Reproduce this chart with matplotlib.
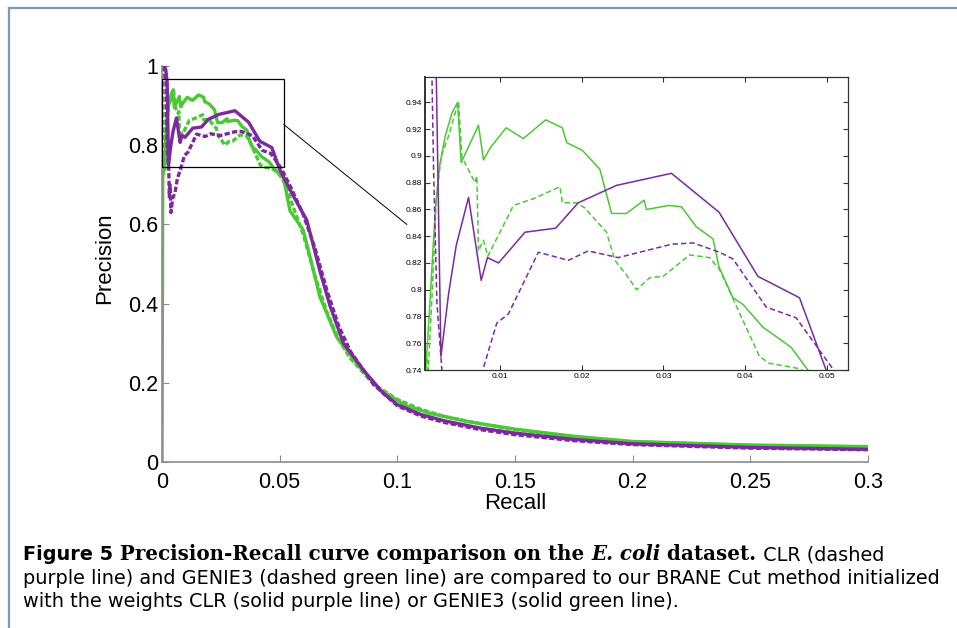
import matplotlib
matplotlib.use("Agg")
import matplotlib.pyplot as plt
from matplotlib.patches import Rectangle
from matplotlib.lines import Line2D

plt.rcParams["font.family"] = ["Liberation Sans", "DejaVu Sans"]

# Precision-Recall curves
# BRANE Cut initialised with GENIE3 (solid green)
recall_brane_genie3 = [0, 0.0003, 0.0009, 0.0014, 0.00206, 0.0026, 0.00328, 0.0041, 0.00479,
                       0.00523, 0.00735, 0.00796, 0.00878, 0.01073, 0.01285, 0.01558, 0.01762,
                       0.01815, 0.0201, 0.02222, 0.02365, 0.02548, 0.02764, 0.02792, 0.03069,
                       0.0322, 0.03403, 0.03607, 0.0368, 0.03851, 0.03974, 0.04218, 0.04564,
                       0.04768, 0.0516, 0.0544, 0.060, 0.0629, 0.0671, 0.0742, 0.0827, 0.0926,
                       0.104, 0.1139, 0.13, 0.15, 0.175, 0.2, 0.25, 0.3]
prec_brane_genie3 = [0, 0.72, 0.74, 0.79, 0.86, 0.893, 0.915, 0.932, 0.94,
                     0.895, 0.923, 0.897, 0.906, 0.921, 0.913, 0.927, 0.921,
                     0.91, 0.904, 0.89, 0.857, 0.857, 0.867, 0.86, 0.863,
                     0.862, 0.847, 0.838, 0.817, 0.794, 0.789, 0.772, 0.757,
                     0.74, 0.717, 0.634, 0.586, 0.518, 0.417, 0.316, 0.249, 0.182,
                     0.142, 0.123, 0.102, 0.083, 0.065, 0.052, 0.043, 0.039]

# GENIE3 (dashed green)
recall_genie3 = [0, 0.0003, 0.0008, 0.0012, 0.0017, 0.0022, 0.0028, 0.0037, 0.00491, 0.00532,
                 0.00694, 0.00715, 0.00735, 0.00796, 0.00849, 0.01163, 0.01407, 0.01733,
                 0.01762, 0.01937, 0.02039, 0.02303, 0.02405, 0.02548, 0.0267, 0.02833,
                 0.02996, 0.03322, 0.03566, 0.03688, 0.04177, 0.043, 0.04666, 0.0495, 0.0525,
                 0.056, 0.06, 0.065, 0.07, 0.075, 0.08, 0.09, 0.1, 0.11, 0.12, 0.135, 0.15,
                 0.175, 0.2, 0.25, 0.3]
prec_genie3 = [1.0, 0.92, 0.76, 0.74, 0.80, 0.87, 0.90, 0.915, 0.941, 0.899,
               0.88, 0.885, 0.829, 0.837, 0.825, 0.863, 0.868, 0.877,
               0.865, 0.865, 0.861, 0.843, 0.822, 0.811, 0.80, 0.809,
               0.81, 0.826, 0.824, 0.815, 0.75, 0.745, 0.741, 0.73, 0.70,
               0.64, 0.575, 0.47, 0.38, 0.31, 0.262, 0.196, 0.158, 0.133, 0.115, 0.097, 0.082,
               0.064, 0.051, 0.042, 0.037]

# CLR (dashed purple)
recall_clr = [0.0008, 0.00165, 0.00185, 0.00226, 0.00287, 0.0031, 0.0034, 0.0038, 0.0045,
              0.0055, 0.0065, 0.00788, 0.00959, 0.01102, 0.01468, 0.01835, 0.02079, 0.02446,
              0.03098, 0.03363, 0.03688, 0.03851, 0.04259, 0.04625, 0.05073, 0.055, 0.06,
              0.065, 0.07, 0.075, 0.08, 0.09, 0.1, 0.11, 0.12, 0.135, 0.15, 0.175, 0.2,
              0.25, 0.3]
prec_clr = [1.0, 0.96, 0.89, 0.79, 0.74, 0.67, 0.70, 0.63, 0.665,
            0.68, 0.715, 0.74, 0.775, 0.782, 0.828, 0.822, 0.829, 0.824,
            0.834, 0.835, 0.828, 0.823, 0.787, 0.779, 0.741, 0.69, 0.625,
            0.54, 0.435, 0.345, 0.28, 0.195, 0.142, 0.116, 0.1, 0.082, 0.069, 0.054, 0.044,
            0.035, 0.031]

# BRANE Cut initialised with CLR (solid purple)
recall_brane_clr = [0.0011, 0.0016, 0.00218, 0.00275, 0.00369, 0.00462, 0.00613, 0.00768,
                    0.00845, 0.0098, 0.01305, 0.0168, 0.01957, 0.02426, 0.03098, 0.0368,
                    0.04157, 0.04666, 0.04992, 0.0525, 0.0555, 0.0615, 0.0672, 0.0714,
                    0.0771, 0.0856, 0.094, 0.1, 0.11, 0.12, 0.135, 0.15, 0.175, 0.2, 0.25, 0.3]
prec_brane_clr = [1.0, 0.99, 0.96, 0.75, 0.797, 0.833, 0.869, 0.807,
                  0.824, 0.82, 0.843, 0.846, 0.865, 0.878, 0.887, 0.858,
                  0.81, 0.794, 0.74, 0.71, 0.675, 0.611, 0.48, 0.394,
                  0.30, 0.232, 0.174, 0.145, 0.12, 0.104, 0.086, 0.073, 0.057, 0.046, 0.037, 0.032]

x_ticks = [0, 0.05, 0.1, 0.15, 0.2, 0.25, 0.3]
x_tick_labels = ["0", "0.05", "0.1", "0.15", "0.2", "0.25", "0.3"]
y_ticks = [0, 0.2, 0.4, 0.6, 0.8, 1.0]
y_tick_labels = ["0", "0.2", "0.4", "0.6", "0.8", "1"]

inset_x_ticks = [0.01, 0.02, 0.03, 0.04, 0.05]
inset_x_labels = ["0.01", "0.02", "0.03", "0.04", "0.05"]
inset_y_ticks = [0.74, 0.76, 0.78, 0.80, 0.82, 0.84, 0.86, 0.88, 0.90, 0.92, 0.94]
inset_y_labels = ["0.74", "0.76", "0.78", "0.8", "0.82", "0.84", "0.86", "0.88", "0.9", "0.92", "0.94"]

PURPLE = "#7b2a9e"
GREEN = "#4bc935"

curves = [
    (recall_genie3, prec_genie3, GREEN, "dashed"),
    (recall_brane_genie3, prec_brane_genie3, GREEN, "solid"),
    (recall_clr, prec_clr, PURPLE, "dashed"),
    (recall_brane_clr, prec_brane_clr, PURPLE, "solid"),
]

fig = plt.figure(figsize=(9.57, 6.28), dpi=100)

# main axes
ax = fig.add_axes([0.1693, 0.2643, 0.7377, 0.6306])
for r, p, c, ls in curves:
    style = (0, (1.6, 0.7)) if ls == "dashed" else "-"
    ax.plot(r, p, color=c, linestyle=style, linewidth=2.4)

ax.set_xlim(0, 0.3)
ax.set_ylim(0, 1)
ax.set_xticks(x_ticks)
ax.set_xticklabels(x_tick_labels)
ax.set_yticks(y_ticks)
ax.set_yticklabels(y_tick_labels)
for s in ["top", "right"]:
    ax.spines[s].set_visible(False)
for s in ["left", "bottom"]:
    ax.spines[s].set_color("#8c8c8c")
    ax.spines[s].set_linewidth(1.2)
ax.tick_params(direction="in", length=5, color="#8c8c8c", labelsize=15.5)
ax.tick_params(axis="x", pad=7)
ax.tick_params(axis="y", pad=3)
ax.set_xlabel("Recall", fontsize=16)
ax.set_ylabel("Precision", fontsize=16)
ax.xaxis.set_label_coords(0.5, -0.077)
ax.yaxis.set_label_coords(-0.066, 0.515)

# zoom box and connector
box_x0, box_x1, box_y0, box_y1 = 0.0, 0.0518, 0.744, 0.967
ax.add_patch(Rectangle((box_x0, box_y0), box_x1 - box_x0, box_y1 - box_y0,
                       fill=False, edgecolor="black", linewidth=0.9, zorder=5))
ax.plot([box_x1, 0.104], [0.852, 0.600], color="black", linewidth=0.7, clip_on=False)

# inset
axin = fig.add_axes([0.4441, 0.4108, 0.442, 0.4666])
for r, p, c, ls in curves:
    style = (0, (3.5, 2)) if ls == "dashed" else "-"
    axin.plot(r, p, color=c, linestyle=style, linewidth=1.1)
axin.set_xlim(0.0008, 0.0526)
axin.set_ylim(0.74, 0.959)
axin.set_xticks(inset_x_ticks)
axin.set_xticklabels(inset_x_labels)
axin.set_yticks(inset_y_ticks)
axin.set_yticklabels(inset_y_labels)
for s in axin.spines.values():
    s.set_color("#333333")
    s.set_linewidth(0.9)
axin.spines["left"].set_linewidth(1.4)
axin.tick_params(direction="in", length=3.5, color="#333333", labelsize=6,
                 top=True, right=True, pad=2)

# frame lines
fig.add_artist(Line2D([0.0094, 1.0], [0.9873, 0.9873], color="#7f98b3", linewidth=1.6,
                      transform=fig.transFigure))
fig.add_artist(Line2D([0.0094, 0.0094], [0.0, 0.9873], color="#7f98b3", linewidth=1.6,
                      transform=fig.transFigure))

# caption
cap_x = 0.024
cap_lines_y = [0.108, 0.0705, 0.033]
renderer = fig.canvas.get_renderer()
fig_w = fig.get_figwidth() * fig.dpi

first_line = [
    ("Figure 5", "DejaVu Sans", "bold", "normal", 13.9),
    (" Precision-Recall curve comparison on the ", "DejaVu Serif", "bold", "normal", 14.3),
    ("E. coli", "DejaVu Serif", "bold", "italic", 14.3),
    (" dataset.", "DejaVu Serif", "bold", "normal", 14.3),
    (" CLR (dashed", "DejaVu Sans", "normal", "normal", 13.9),
]
x = cap_x
for txt, fam, w, st, size in first_line:
    t = fig.text(x, cap_lines_y[0], txt, fontsize=size, family=fam, fontweight=w,
                 fontstyle=st, va="baseline")
    x = t.get_window_extent(renderer).x1 / fig_w

fig.text(cap_x, cap_lines_y[1], "purple line) and GENIE3 (dashed green line) are compared to our "
         "BRANE Cut method initialized", fontsize=13.9, family="DejaVu Sans", va="baseline")
fig.text(cap_x, cap_lines_y[2], "with the weights CLR (solid purple line) or GENIE3 (solid green line).",
         fontsize=13.9, family="DejaVu Sans", va="baseline")

fig.savefig("out.png", dpi=100)
